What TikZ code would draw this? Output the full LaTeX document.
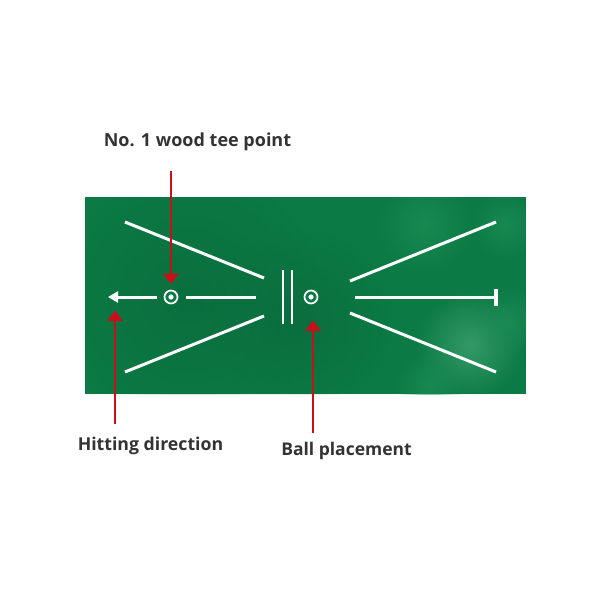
\documentclass[tikz,border=0pt]{standalone}
\usepackage{fontspec}
\setmainfont{Open Sans}
\usetikzlibrary{arrows.meta,fadings}
\definecolor{matgreen}{HTML}{0B7A44}
\definecolor{darkgreen}{HTML}{0A6A3C}
\definecolor{lightgreen}{HTML}{45A877}
\definecolor{midgreen}{HTML}{1F8F58}
\definecolor{redarrow}{HTML}{C8101A}
\definecolor{labeltext}{HTML}{333333}
\tikzfading[name=softdisc,inner color=transparent!30,outer color=transparent!100]
\tikzset{
  mat/.style={fill=matgreen,draw=none},
  guide/.style={draw=white,line width=3pt,line cap=butt},
  thinguide/.style={draw=white,line width=2.8pt},
  callout/.style={draw=redarrow,line width=2.4pt,-{Triangle[length=10.5pt,width=15.5pt]}},
  labeltxt/.style={text=labeltext,font=\bfseries\fontsize{18}{20}\selectfont,inner sep=0pt},
  ringmark/.style={circle,draw=white,line width=1.7pt,fill=matgreen,minimum size=13pt,inner sep=0pt},
  patch/.style={fill=lightgreen,path fading=softdisc,draw=none},
  softpatch/.style={fill=midgreen,path fading=softdisc,draw=none},
  darkpatch/.style={fill=darkgreen,path fading=softdisc,draw=none}
}
\begin{document}
\begin{tikzpicture}[x=1pt,y=-1pt]
\useasboundingbox (0,0) rectangle (600,600);
\fill[white] (0,0) rectangle (600,600);
\fill[mat] (85,197) rectangle (526,394);
\begin{scope}
\clip (85,197) rectangle (526,394);
\fill[darkpatch] (190,300) circle [radius=130];
\fill[darkpatch] (300,320) circle [radius=90];
\fill[patch] (470,345) circle [radius=55];
\fill[softpatch] (510,320) circle [radius=35];
\fill[softpatch] (425,225) circle [radius=50];
\fill[softpatch] (505,225) circle [radius=35];
\fill[softpatch] (430,385) circle [radius=35];
\end{scope}
% named points
\coordinate (tl1) at (125,222); \coordinate (tl2) at (264,278);
\coordinate (bl1) at (125,372); \coordinate (bl2) at (264,316);
\coordinate (tr1) at (350,281); \coordinate (tr2) at (496,222);
\coordinate (br1) at (350,313); \coordinate (br2) at (496,372);
\coordinate (cr1) at (355,297); \coordinate (cr2) at (496,297);
\coordinate (tb1) at (496,289); \coordinate (tb2) at (496,305.5);
\coordinate (cl1) at (186,297); \coordinate (cl2) at (256,297);
\coordinate (ar1) at (156.5,297); \coordinate (ar2) at (108,297);
\coordinate (v1a) at (283,270); \coordinate (v1b) at (283,323.5);
\coordinate (v2a) at (292,270); \coordinate (v2b) at (292,323.5);
\draw[guide] (tl1) -- (tl2);
\draw[guide] (bl1) -- (bl2);
\draw[guide] (tr1) -- (tr2);
\draw[guide] (br1) -- (br2);
\draw[guide] (cr1) -- (cr2);
\draw[guide,line width=3.4pt] (tb1) -- (tb2);
\draw[guide] (cl1) -- (cl2);
\draw[guide,-{Triangle[length=10pt,width=11pt]}] (ar1) -- (ar2);
\draw[thinguide] (v1a) -- (v1b);
\draw[thinguide] (v2a) -- (v2b);
\node[ringmark] (tee) at (171,297) {};
\node[ringmark] (ball) at (311,297) {};
\fill[white] (tee) circle [radius=2.6];
\fill[white] (ball) circle [radius=2.6];
% labels
\node[labeltxt,anchor=base] (teelabel) at (197.5,146.5) {No. 1 wood tee point};
\node[labeltxt,anchor=base,font=\bfseries\fontsize{17.7}{20}\selectfont] (hitlabel) at (150.5,450) {Hitting direction};
\node[labeltxt,anchor=base,font=\bfseries\fontsize{17.5}{20}\selectfont] (balllabel) at (346.5,455) {Ball placement};
% callouts
\coordinate (tees) at (171,171); \coordinate (teee) at (171,284);
\coordinate (hits) at (115,424); \coordinate (hite) at (115,310.5);
\coordinate (balls) at (313,433); \coordinate (balle) at (313,320.5);
\draw[callout] (tees) -- (teee);
\draw[callout] (hits) -- (hite);
\draw[callout] (balls) -- (balle);
\end{tikzpicture}
\end{document}
